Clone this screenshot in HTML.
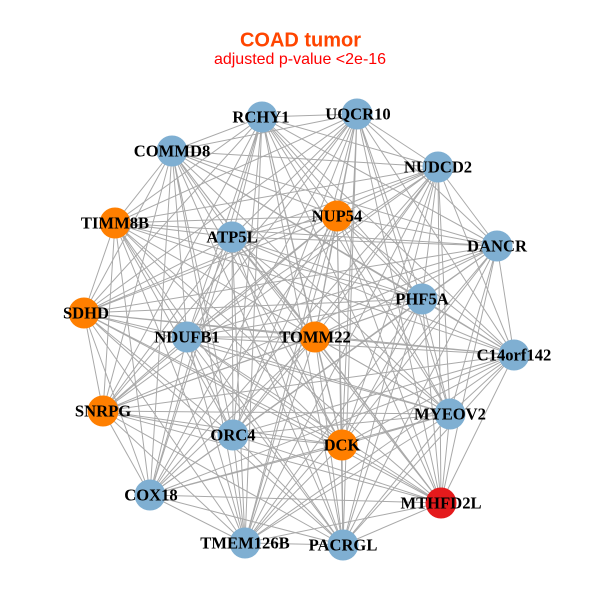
<!DOCTYPE html>
<html><head><meta charset="utf-8"><style>
html,body{margin:0;padding:0;background:#fff;}
svg{display:block;}
</style></head><body>
<svg width="600" height="600" viewBox="0 0 600 600" xmlns="http://www.w3.org/2000/svg">
<rect width="600" height="600" fill="#fff"/>
<text x="300.5" y="46.5" text-anchor="middle" font-family="Liberation Sans, sans-serif" font-weight="bold" font-size="20" fill="#FF4500">COAD tumor</text>
<text x="300" y="64" text-anchor="middle" font-family="Liberation Sans, sans-serif" font-size="16" fill="#FF0000">adjusted p-value &lt;2e-16</text>
<g fill="none" stroke="#a9a9a9" stroke-width="1">
<path d="M262 117L357 114M262 117L172 151M262 117L438 167M262 117L115 223M262 117L337 216M262 117L232 237M262 117L497 246M262 117L422 299M262 117L84 313M262 117L187 337M262 117L315 337M262 117L514 355M262 117L103 411M262 117L450 414M262 117L233 435M262 117L342 445M262 117L150 495M262 117L441 503M262 117L245 543M262 117L343 545"/>
<path d="M357 114L172 151M357 114L438 167M357 114L115 223M357 114L337 216M357 114L232 237M357 114L497 246M357 114L422 299M357 114L84 313M357 114L187 337M357 114L315 337M357 114L514 355M357 114L103 411M357 114L450 414M357 114L233 435M357 114L342 445M357 114L150 495M357 114L441 503M357 114L245 543M357 114L343 545"/>
<path d="M172 151L438 167M172 151L115 223M172 151L337 216M172 151L232 237M172 151L497 246M172 151L422 299M172 151L84 313M172 151L187 337M172 151L315 337M172 151L514 355M172 151L103 411M172 151L450 414M172 151L233 435M172 151L342 445M172 151L150 495M172 151L441 503M172 151L245 543M172 151L343 545"/>
<path d="M438 167L115 223M438 167L337 216M438 167L232 237M438 167L497 246M438 167L422 299M438 167L84 313M438 167L187 337M438 167L315 337M438 167L514 355M438 167L103 411M438 167L450 414M438 167L233 435M438 167L342 445M438 167L150 495M438 167L441 503M438 167L245 543M438 167L343 545"/>
<path d="M115 223L337 216M115 223L232 237M115 223L497 246M115 223L422 299M115 223L84 313M115 223L187 337M115 223L315 337M115 223L514 355M115 223L103 411M115 223L450 414M115 223L233 435M115 223L342 445M115 223L150 495M115 223L441 503M115 223L245 543M115 223L343 545"/>
<path d="M337 216L232 237M337 216L497 246M337 216L422 299M337 216L84 313M337 216L187 337M337 216L315 337M337 216L514 355M337 216L103 411M337 216L450 414M337 216L233 435M337 216L342 445M337 216L150 495M337 216L441 503M337 216L245 543M337 216L343 545"/>
<path d="M232 237L497 246M232 237L422 299M232 237L84 313M232 237L187 337M232 237L315 337M232 237L514 355M232 237L103 411M232 237L450 414M232 237L233 435M232 237L342 445M232 237L150 495M232 237L441 503M232 237L245 543M232 237L343 545"/>
<path d="M497 246L422 299M497 246L84 313M497 246L187 337M497 246L315 337M497 246L514 355M497 246L103 411M497 246L450 414M497 246L233 435M497 246L342 445M497 246L150 495M497 246L441 503M497 246L245 543M497 246L343 545"/>
<path d="M422 299L84 313M422 299L187 337M422 299L315 337M422 299L514 355M422 299L103 411M422 299L450 414M422 299L233 435M422 299L342 445M422 299L150 495M422 299L441 503M422 299L245 543M422 299L343 545"/>
<path d="M84 313L187 337M84 313L315 337M84 313L514 355M84 313L103 411M84 313L450 414M84 313L233 435M84 313L342 445M84 313L150 495M84 313L441 503M84 313L245 543M84 313L343 545"/>
<path d="M187 337L315 337M187 337L514 355M187 337L103 411M187 337L450 414M187 337L233 435M187 337L342 445M187 337L150 495M187 337L441 503M187 337L245 543M187 337L343 545"/>
<path d="M315 337L514 355M315 337L103 411M315 337L450 414M315 337L233 435M315 337L342 445M315 337L150 495M315 337L441 503M315 337L245 543M315 337L343 545"/>
<path d="M514 355L103 411M514 355L450 414M514 355L233 435M514 355L342 445M514 355L150 495M514 355L441 503M514 355L245 543M514 355L343 545"/>
<path d="M103 411L450 414M103 411L233 435M103 411L342 445M103 411L150 495M103 411L441 503M103 411L245 543M103 411L343 545"/>
<path d="M450 414L233 435M450 414L342 445M450 414L150 495M450 414L441 503M450 414L245 543M450 414L343 545"/>
<path d="M233 435L342 445M233 435L150 495M233 435L441 503M233 435L245 543M233 435L343 545"/>
<path d="M342 445L150 495M342 445L441 503M342 445L245 543M342 445L343 545"/>
<path d="M150 495L441 503M150 495L245 543M150 495L343 545"/>
<path d="M441 503L245 543M441 503L343 545M245 543L343 545"/>
</g>
<g>
<circle cx="262" cy="117" r="15.5" fill="#7fafd2"/>
<circle cx="357" cy="114" r="15.5" fill="#7fafd2"/>
<circle cx="172" cy="151" r="15.5" fill="#7fafd2"/>
<circle cx="438" cy="167" r="15.5" fill="#7fafd2"/>
<circle cx="115" cy="223" r="15.5" fill="#ff7f00"/>
<circle cx="337" cy="216" r="15.5" fill="#ff7f00"/>
<circle cx="232" cy="237" r="15.5" fill="#7fafd2"/>
<circle cx="497" cy="246" r="15.5" fill="#7fafd2"/>
<circle cx="422" cy="299" r="15.5" fill="#7fafd2"/>
<circle cx="84" cy="313" r="15.5" fill="#ff7f00"/>
<circle cx="187" cy="337" r="15.5" fill="#7fafd2"/>
<circle cx="315" cy="337" r="15.5" fill="#ff7f00"/>
<circle cx="514" cy="355" r="15.5" fill="#7fafd2"/>
<circle cx="103" cy="411" r="15.5" fill="#ff7f00"/>
<circle cx="450" cy="414" r="15.5" fill="#7fafd2"/>
<circle cx="233" cy="435" r="15.5" fill="#7fafd2"/>
<circle cx="342" cy="445" r="15.5" fill="#ff7f00"/>
<circle cx="150" cy="495" r="15.5" fill="#7fafd2"/>
<circle cx="441" cy="503" r="15.5" fill="#e41a1c"/>
<circle cx="245" cy="543" r="15.5" fill="#7fafd2"/>
<circle cx="343" cy="545" r="15.5" fill="#7fafd2"/>
</g>
<g font-family="Liberation Serif, serif" font-weight="bold" font-size="16.6" fill="#000" text-anchor="middle">
<text x="261" y="122.5">RCHY1</text>
<text x="358" y="119.5">UQCR10</text>
<text x="172" y="156.5">COMMD8</text>
<text x="438" y="172.5">NUDCD2</text>
<text x="115" y="228.5">TIMM8B</text>
<text x="337" y="221.5">NUP54</text>
<text x="232" y="242.5">ATP5L</text>
<text x="497" y="251.5">DANCR</text>
<text x="422" y="304.5">PHF5A</text>
<text x="86" y="318.5">SDHD</text>
<text x="187" y="342.5">NDUFB1</text>
<text x="315" y="342.5">TOMM22</text>
<text x="514" y="360.5">C14orf142</text>
<text x="103" y="416.5">SNRPG</text>
<text x="450" y="419.5">MYEOV2</text>
<text x="233" y="440.5">ORC4</text>
<text x="342" y="450.5">DCK</text>
<text x="151" y="500.5">COX18</text>
<text x="441" y="508.5">MTHFD2L</text>
<text x="245" y="548.5">TMEM126B</text>
<text x="343" y="550.5">PACRGL</text>
</g>
</svg>
</body></html>
